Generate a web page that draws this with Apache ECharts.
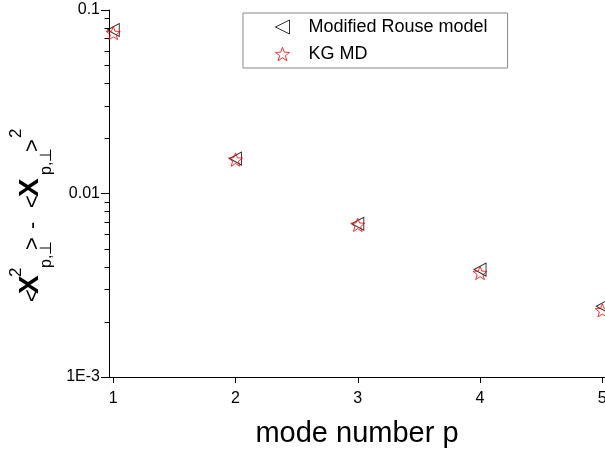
<!DOCTYPE html>
<html>
<head>
<meta charset="utf-8">
<script src="https://cdn.jsdelivr.net/npm/echarts@6/dist/echarts.min.js"></script>
<style>
html,body{margin:0;padding:0;background:#fff;}
#chart{width:605px;height:452px;}
</style>
</head>
<body>
<div id="chart"></div>
<script>
// ---- data ----
const modes = [1, 2, 3, 4, 5];
const rouseModel = [0.0778, 0.0155, 0.00684, 0.00385, 0.00243];
const kgMD = [0.0749, 0.0153, 0.00675, 0.00369, 0.00231];
const xTickValues = [1, 2, 3, 4, 5];
const yMinorTicks = [0.002, 0.003, 0.004, 0.005, 0.006, 0.007, 0.008, 0.009,
                     0.02, 0.03, 0.04, 0.05, 0.06, 0.07, 0.08, 0.09];
const yLabels = {'0.001': '1E-3', '0.01': '0.01', '0.1': '0.1'};

const X_MIN = 0.965, X_MAX = 5.022;
const FONT = '"Liberation Sans", Arial, sans-serif';

// symbol shapes
const LEFT_TRIANGLE = 'path://M0 5 L10 0 L10 10 Z';
function starPath() {
  let d = '';
  for (let i = 0; i < 10; i++) {
    const a = (-90 + 36 * i) * Math.PI / 180;
    const r = i % 2 === 0 ? 10 : 4.2;
    d += (i === 0 ? 'M' : 'L') + (r * Math.cos(a)).toFixed(3) + ' ' + (r * Math.sin(a)).toFixed(3) + ' ';
  }
  return 'path://' + d + 'Z';
}
const STAR = starPath();

const chart = echarts.init(document.getElementById('chart'), null, {renderer: 'canvas'});

function txt(text, x, y, size, weight) {
  return {
    type: 'text', x: x, y: y,
    style: {
      text: text, fill: '#000', fontSize: size, fontFamily: FONT,
      fontWeight: weight || 'normal',
      align: 'left', verticalAlign: 'middle',
      textAlign: 'left', textVerticalAlign: 'middle'
    }
  };
}

const rouseStyle = {color: 'rgba(0,0,0,0)', borderColor: '#000', borderWidth: 1};
const kgStyle = {color: 'rgba(0,0,0,0)', borderColor: '#ff0000', borderWidth: 1};

const option = {
  backgroundColor: '#fff',
  animation: false,
  grid: {left: 109, top: 10, right: 0, bottom: 75, containLabel: false, outerBoundsMode: 'none'},
  legend: {
    orient: 'vertical', left: 243, top: 13,
    padding: [5, 20, 5, 32],
    itemWidth: 14, itemHeight: 14, itemGap: 9,
    borderColor: '#888', borderWidth: 1,
    selectedMode: false,
    textStyle: {fontSize: 18, fontFamily: FONT, color: '#000', padding: [0, 0, 0, 14]},
    data: [
      {name: 'Modified Rouse model', icon: LEFT_TRIANGLE, itemStyle: rouseStyle},
      {name: 'KG MD', icon: STAR, itemStyle: kgStyle}
    ]
  },
  xAxis: {
    type: 'value', min: X_MIN, max: X_MAX,
    name: 'mode number p', nameLocation: 'middle', nameGap: 42,
    nameTextStyle: {fontSize: 29, fontFamily: FONT, color: '#000'},
    axisLine: {show: true, onZero: false, lineStyle: {color: '#000', width: 1}},
    axisTick: {show: true, length: 6, customValues: xTickValues, lineStyle: {color: '#000'}},
    axisLabel: {show: true, customValues: xTickValues, margin: 14, fontSize: 16, fontFamily: FONT, color: '#000'},
    splitLine: {show: false}
  },
  yAxis: {
    type: 'log', logBase: 10, min: 0.001, max: 0.1,
    axisLine: {show: true, onZero: false, lineStyle: {color: '#000', width: 1}},
    axisTick: {show: true, length: 8, lineStyle: {color: '#000'}},
    axisLabel: {
      show: true, margin: 9, fontSize: 16, fontFamily: FONT, color: '#000',
      formatter: function (v) {
        const k = String(Number(v.toPrecision(6)));
        return yLabels[k] !== undefined ? yLabels[k] : '';
      }
    },
    splitLine: {show: false}
  },
  graphic: [{
    type: 'group', x: 30, y: 302, rotation: Math.PI / 2,
    children: [
      txt('<', 0, 2.5, 22),
      txt('X', 8, 0, 28, 'bold'),
      txt('2', 25, -14, 17),
      txt('p,⊥', 34, 17, 16),
      txt('>', 52, 2.5, 22),
      txt('-', 73, 2.5, 22),
      txt('<', 94, 2.5, 22),
      txt('X', 105, 0, 28, 'bold'),
      txt('p,⊥', 127, 17, 16),
      txt('>', 150, 2.5, 22),
      txt('2', 164, -14, 17)
    ]
  }],
  series: [
    {
      type: 'custom', name: 'minorTicks', silent: true, clip: false,
      coordinateSystem: 'cartesian2d',
      data: yMinorTicks.map(v => [X_MIN, v]),
      encode: {x: 0, y: 1},
      renderItem: function (params, api) {
        const p = api.coord([api.value(0), api.value(1)]);
        const y = Math.round(p[1]) + 0.5;
        const x = Math.round(p[0]) + 0.5;
        return {
          type: 'line',
          shape: {x1: x - 5, y1: y, x2: x, y2: y},
          style: {stroke: '#000', lineWidth: 1}
        };
      }
    },
    {
      type: 'scatter', name: 'Modified Rouse model',
      data: modes.map((p, i) => [p, rouseModel[i]]),
      symbol: LEFT_TRIANGLE, symbolSize: [12, 13],
      itemStyle: rouseStyle,
      clip: false
    },
    {
      type: 'scatter', name: 'KG MD',
      data: modes.map((p, i) => [p, kgMD[i]]),
      symbol: STAR, symbolSize: 14, symbolKeepAspect: true,
      itemStyle: kgStyle,
      clip: false
    }
  ]
};
chart.setOption(option);
</script>
</body>
</html>
